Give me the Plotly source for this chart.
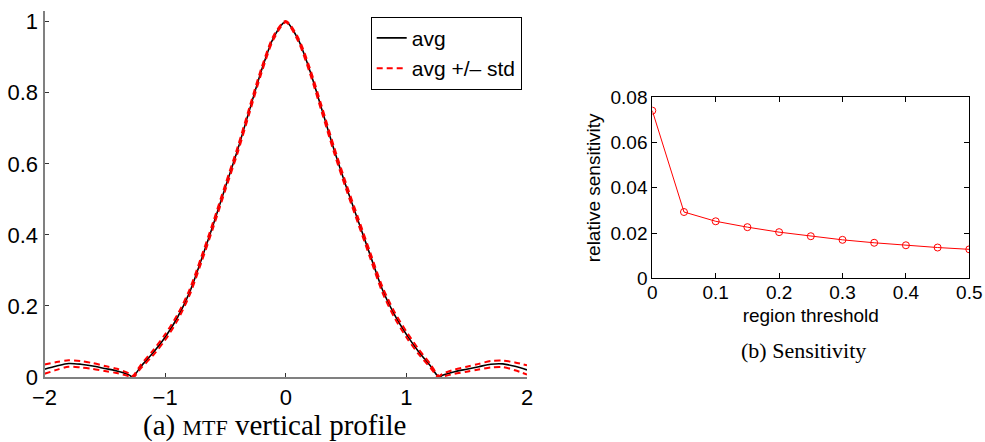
import plotly.graph_objects as go

# ---- data: (a) MTF vertical profile ----
profile_x = [-2.0, -1.9, -1.8, -1.7, -1.6, -1.5, -1.4, -1.3, -1.27, -1.2, -1.1, -1.0,
             -0.9, -0.8, -0.7, -0.6, -0.5, -0.4, -0.3, -0.2, -0.1, 0.0,
             0.1, 0.2, 0.3, 0.4, 0.5, 0.6, 0.7, 0.8, 0.9, 1.0, 1.1, 1.2, 1.27,
             1.3, 1.4, 1.5, 1.6, 1.7, 1.8, 1.9, 2.0]
profile_avg = [0.022, 0.031, 0.038, 0.036, 0.031, 0.024, 0.017, 0.006, 0.0, 0.030, 0.068, 0.112,
               0.166, 0.236, 0.330, 0.430, 0.535, 0.638, 0.752, 0.864, 0.956, 1.0,
               0.952, 0.862, 0.752, 0.640, 0.537, 0.440, 0.343, 0.247, 0.176, 0.120, 0.072, 0.031, 0.0,
               0.005, 0.015, 0.022, 0.029, 0.036, 0.037, 0.030, 0.020]
profile_std = [0.013, 0.011, 0.009, 0.009, 0.008, 0.007, 0.006, 0.004, 0.003, 0.005, 0.007, 0.008,
               0.008, 0.008, 0.008, 0.008, 0.008, 0.008, 0.008, 0.007, 0.005, 0.002,
               0.005, 0.007, 0.008, 0.008, 0.008, 0.008, 0.008, 0.008, 0.008, 0.008, 0.007, 0.005, 0.003,
               0.004, 0.006, 0.007, 0.008, 0.009, 0.009, 0.011, 0.013]

# ---- data: (b) Sensitivity ----
threshold = [0.0, 0.05, 0.1, 0.15, 0.2, 0.25, 0.3, 0.35, 0.4, 0.45, 0.5]
sensitivity = [0.0741, 0.0293, 0.0252, 0.0226, 0.0204, 0.0186, 0.0170, 0.0157, 0.0146, 0.0136, 0.0128]

left_ticks_y = [0, 0.2, 0.4, 0.6, 0.8, 1]
left_ticks_x = [-2, -1, 0, 1, 2]

upper = [a + s for a, s in zip(profile_avg, profile_std)]
lower = [a - s for a, s in zip(profile_avg, profile_std)]

W, H = 985, 442
SANS = "Liberation Sans, Arial, sans-serif"
SERIF = "Liberation Serif, Times New Roman, serif"
DASH = "6px,4px"

fig = go.Figure()
fig.add_trace(go.Scatter(x=profile_x, y=profile_avg, mode="lines", name="avg",
                         line=dict(color="black", width=1.6, shape="spline", smoothing=0.8),
                         xaxis="x", yaxis="y"))
fig.add_trace(go.Scatter(x=profile_x, y=upper, mode="lines", name="avg +/– std",
                         line=dict(color="red", width=2, dash=DASH, shape="spline", smoothing=0.8),
                         xaxis="x", yaxis="y"))
fig.add_trace(go.Scatter(x=profile_x, y=lower, mode="lines", name="avg +/– std", showlegend=False,
                         line=dict(color="red", width=2, dash=DASH, shape="spline", smoothing=0.8),
                         xaxis="x", yaxis="y"))
fig.add_trace(go.Scatter(x=threshold, y=sensitivity, mode="lines+markers", showlegend=False,
                         line=dict(color="red", width=1),
                         marker=dict(symbol="circle-open", size=7, color="red", line=dict(width=1)),
                         xaxis="x2", yaxis="y2"))

def px_x(p):
    return p / W

def px_y(p):
    return (H - p) / H

fig.update_layout(
    width=W, height=H,
    margin=dict(l=0, r=0, t=0, b=0, autoexpand=False),
    paper_bgcolor="white", plot_bgcolor="white",
    font=dict(family=SANS, color="black"),
    xaxis=dict(domain=[px_x(44.5), px_x(527)], range=[-2, 2], tickvals=left_ticks_x,
               showgrid=False, zeroline=False, showline=True, linecolor="#808080", linewidth=2,
               ticks="inside", ticklen=4, tickcolor="#333333", tickfont=dict(size=22),
               anchor="y", automargin=False),
    yaxis=dict(domain=[px_y(377), px_y(11)], range=[0, 1.03], tickvals=left_ticks_y,
               showgrid=False, zeroline=False, showline=True, linecolor="#808080", linewidth=2,
               ticks="inside", ticklen=4, tickcolor="#333333", tickfont=dict(size=22),
               anchor="x", automargin=False),
    xaxis2=dict(domain=[px_x(652.3), px_x(969.3)], range=[0, 0.5], dtick=0.1, tick0=0,
                showgrid=False, zeroline=False, showline=True, linecolor="black", linewidth=1,
                mirror="allticks", ticks="inside", ticklen=5, tickcolor="black",
                tickfont=dict(size=19), anchor="y2", automargin=False, ticklabelstandoff=-3,
                title=dict(text="region threshold", font=dict(size=19), standoff=6)),
    yaxis2=dict(domain=[px_y(278.3), px_y(97.3)], range=[0, 0.08], dtick=0.02, tick0=0,
                showgrid=False, zeroline=False, showline=True, linecolor="black", linewidth=1,
                mirror="allticks", ticks="inside", ticklen=5, tickcolor="black",
                tickfont=dict(size=19), anchor="x2", automargin=False,
                title=dict(text="relative sensitivity", font=dict(size=19), standoff=4)),
    legend=dict(x=px_x(521.7), xanchor="right", y=px_y(16.7), yanchor="top",
                bgcolor="white", bordercolor="black", borderwidth=1,
                font=dict(size=21, family=SANS), tracegroupgap=0, itemwidth=30),
    annotations=[
        dict(text="(a) <span style='font-size:22px'>MTF</span> vertical profile",
             x=px_x(274), y=px_y(425), xref="paper", yref="paper",
             xanchor="center", yanchor="middle", showarrow=False,
             font=dict(family=SERIF, size=29, color="black")),
        dict(text="(b) Sensitivity",
             x=px_x(803), y=px_y(350), xref="paper", yref="paper",
             xanchor="center", yanchor="middle", showarrow=False,
             font=dict(family=SERIF, size=22, color="black")),
    ],
)

fig.write_html(
    "out.html",
    config={"displayModeBar": False},
    post_script="document.body.style.margin='0';document.body.style.overflow='hidden';",
)
